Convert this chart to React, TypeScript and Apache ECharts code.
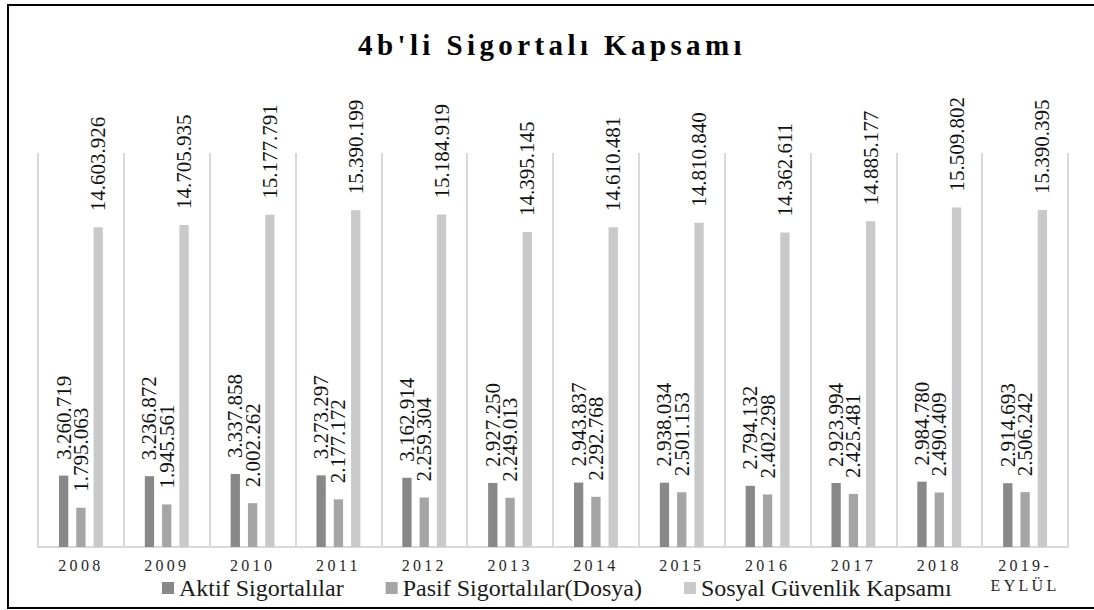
import React, { useEffect, useRef } from "react";
import * as echarts from "echarts";

const categories = ["2008", "2009", "2010", "2011", "2012", "2013", "2014", "2015", "2016", "2017", "2018", "2019-\nEYLÜL"];
const seriesNames = ["Aktif Sigortalılar", "Pasif Sigortalılar(Dosya)", "Sosyal Güvenlik Kapsamı"];
const aktif = [3260719, 3236872, 3337858, 3273297, 3162914, 2927250, 2943837, 2938034, 2794132, 2923994, 2984780, 2914693];
const pasif = [1795063, 1945561, 2002262, 2177172, 2259304, 2249013, 2292768, 2501153, 2402298, 2425481, 2490409, 2506242];
const sosyal = [14603926, 14705935, 15177791, 15390199, 15184919, 14395145, 14610481, 14810840, 14362611, 14885177, 15509802, 15390395];
const titleText = "4b'li Sigortalı Kapsamı";

const colors = ["#888888", "#a5a5a5", "#c9c9c9"];
const FONT = "'Liberation Serif', 'Times New Roman', serif";

const fmt = (v: number) => String(v).replace(/\B(?=(\d{3})+(?!\d))/g, ".");

export default function App() {
  const ref = useRef<HTMLDivElement>(null);
  useEffect(() => {
    document.body.style.margin = "0";
    if (!ref.current) return;
    const chart = echarts.init(ref.current, undefined, { renderer: "svg" });
    const label = {
      show: true,
      position: "top" as const,
      distance: 16,
      rotate: 90,
      align: "left" as const,
      verticalAlign: "middle" as const,
      fontFamily: FONT,
      fontSize: 21,
      color: "#111",
      formatter: (p: any) => fmt(p.value),
    };
    const datas = [aktif, pasif, sosyal];
    chart.setOption({
      animation: false,
      backgroundColor: "#fff",
      textStyle: { fontFamily: FONT },
      graphic: [
        {
          type: "rect",
          shape: { x: 8, y: 5, width: 1100, height: 603 },
          style: { fill: "none", stroke: "#000", lineWidth: 2 },
          silent: true,
        },
        {
          type: "text",
          x: 552,
          y: 30,
          style: {
            text: titleText,
            fill: "#000",
            font: `bold 29px ${FONT}`,
            textAlign: "center",
            textVerticalAlign: "top",
            align: "center",
            verticalAlign: "top",
          },
        },
      ],
      legend: {
        data: seriesNames,
        left: 162,
        top: 576,
        padding: 0,
        itemWidth: 12,
        itemHeight: 12,
        itemGap: 42,
        icon: "rect",
        textStyle: { fontFamily: FONT, fontSize: 24, color: "#1a1a1a" },
      },
      grid: { left: 38, right: 26, top: 153, bottom: 63, containLabel: false },
      xAxis: {
        type: "category",
        data: categories,
        axisLine: { show: true, lineStyle: { color: "#d9d9d9", width: 2 } },
        axisTick: { show: false },
        splitLine: { show: true, lineStyle: { color: "#d9d9d9", width: 2 } },
        axisLabel: {
          interval: 0,
          fontFamily: FONT,
          fontSize: 16,
          lineHeight: 20,
          margin: 8,
          color: "#262626",
        },
      },
      yAxis: {
        type: "value",
        min: 0,
        max: 18000000,
        show: false,
        splitLine: { show: false },
      },
      series: seriesNames.map((name, i) => ({
        name,
        type: "bar",
        data: datas[i],
        barWidth: 9.3,
        barGap: "86%",
        itemStyle: { color: colors[i] },
        label,
      })),
    });

    const axisTexts = new Set<string>();
    categories.forEach((c) => c.split("\n").forEach((s) => axisTexts.add(s)));
    const applySpacing = () => {
      const root = ref.current;
      if (!root) return;
      root.querySelectorAll("text").forEach((t) => {
        const s = (t.textContent || "").trim();
        if (s === titleText) t.setAttribute("letter-spacing", "4.4");
        else if (axisTexts.has(s)) t.setAttribute("letter-spacing", "3.3");
      });
    };
    applySpacing();
    chart.on("finished", applySpacing);
    const raf = requestAnimationFrame(applySpacing);
    return () => {
      cancelAnimationFrame(raf);
      chart.dispose();
    };
  }, []);
  return <div ref={ref} style={{ width: 1094, height: 610 }} />;
}
